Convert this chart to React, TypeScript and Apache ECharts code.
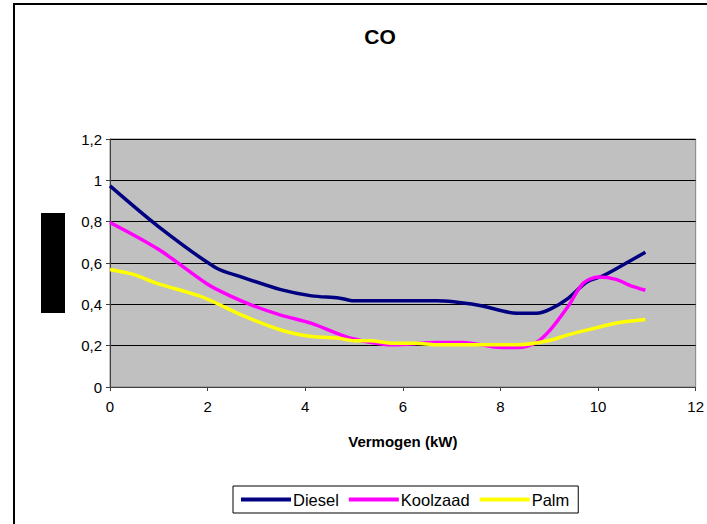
import React, { useEffect, useRef } from "react";
import * as echarts from "echarts";

const titleText = "CO";
const xAxisName = "Vermogen (kW)";
const seriesNames = ["Diesel", "Koolzaad", "Palm"];
const seriesColors = ["#000080", "#FF00FF", "#FFFF00"];

const dieselData: [number, number][] = [
  [0, 0.973], [1, 0.775], [2.15, 0.58], [2.7, 0.532], [3.5, 0.471],
  [4.13, 0.441], [4.69, 0.431], [5.0, 0.417], [6.68, 0.417], [7.55, 0.396],
  [8.34, 0.357], [8.74, 0.357], [9.02, 0.377], [9.38, 0.428], [9.77, 0.508],
  [10.09, 0.537], [10.49, 0.588], [10.97, 0.652],
];
const koolzaadData: [number, number][] = [
  [0, 0.796], [1, 0.665], [2, 0.497], [2.46, 0.441], [2.94, 0.393], [3.5, 0.348],
  [4.13, 0.308], [4.69, 0.256], [5.0, 0.232], [5.8, 0.204], [6.68, 0.215],
  [7.23, 0.215], [8.03, 0.191], [8.34, 0.191], [8.74, 0.216], [9.02, 0.276],
  [9.38, 0.388], [9.7, 0.503], [10.01, 0.532], [10.37, 0.521], [10.65, 0.492],
  [10.97, 0.468],
];
const palmData: [number, number][] = [
  [0, 0.569], [0.48, 0.545], [0.95, 0.503], [1.83, 0.441], [2.15, 0.409], [2.7, 0.348],
  [3.5, 0.276], [4.13, 0.244], [4.69, 0.236], [5.0, 0.224], [5.32, 0.224],
  [5.8, 0.212], [6.28, 0.212], [6.68, 0.204], [8.34, 0.204], [8.98, 0.224],
  [9.38, 0.252], [9.85, 0.28], [10.41, 0.311], [10.97, 0.327],
];
const allData = [dieselData, koolzaadData, palmData];

const xMin = 0, xMax = 12, xStep = 2;
const yMin = 0, yMax = 1.2, yStep = 0.2;

export default function App() {
  const ref = useRef<HTMLDivElement>(null);
  useEffect(() => {
    if (!ref.current) return;
    const chart = echarts.init(ref.current, null, { renderer: "svg" });
    const font = "'Liberation Sans', Arial, sans-serif";
    chart.setOption({
      animation: false,
      backgroundColor: "#ffffff",
      title: {
        text: titleText,
        left: 375,
        textAlign: "center",
        top: 21,
        textStyle: { fontFamily: font, fontSize: 21, fontWeight: "bold", color: "#000" },
      },
      grid: { left: 110, right: 10, top: 139, bottom: 137, show: true, backgroundColor: "#C0C0C0", borderColor: "#808080", borderWidth: 1 },
      xAxis: {
        type: "value",
        min: xMin, max: xMax, interval: xStep,
        name: xAxisName,
        nameLocation: "middle",
        nameGap: 47,
        nameTextStyle: { fontFamily: font, fontSize: 15, fontWeight: "bold", color: "#000" },
        axisLine: { show: true, lineStyle: { color: "#404040", width: 1 } },
        axisTick: { show: true, length: 4, lineStyle: { color: "#404040" } },
        splitLine: { show: false },
        axisLabel: { fontFamily: font, fontSize: 15, color: "#000", margin: 12 },
      },
      yAxis: {
        type: "value",
        min: yMin, max: yMax, interval: yStep,
        axisLine: { show: true, lineStyle: { color: "#404040", width: 1 } },
        axisTick: { show: true, length: 4, lineStyle: { color: "#404040" } },
        splitLine: { show: true, lineStyle: { color: "#000", width: 1 } },
        axisLabel: {
          fontFamily: font, fontSize: 15, color: "#000", margin: 8,
          formatter: (v: number) => String(+v.toFixed(1)).replace(".", ","),
        },
      },
      legend: {
        left: 233,
        top: 486,
        borderColor: "#000",
        borderWidth: 1,
        backgroundColor: "#fff",
        padding: [5, 9, 5, 8],
        itemGap: 10,
        itemWidth: 50,
        itemHeight: 4,
        icon: "rect",
        textStyle: { fontFamily: font, fontSize: 16.5, color: "#000", padding: [0, 0, 0, -3] },
        data: seriesNames,
      },
      graphic: [
        { type: "rect", shape: { x: 14, y: 4, width: 720, height: 540 }, style: { fill: "none", stroke: "#000", lineWidth: 2 }, silent: true, z: 100 },
        { type: "rect", shape: { x: 41, y: 213, width: 24, height: 100 }, style: { fill: "#000" }, silent: true, z: 100 },
      ],
      series: seriesNames.map((n, i) => ({
        name: n,
        type: "line",
        data: allData[i],
        smooth: 0.3,
        showSymbol: false,
        symbol: "none",
        lineStyle: { color: seriesColors[i], width: 3.5 },
        itemStyle: { color: seriesColors[i] },
      })),
    });
    return () => chart.dispose();
  }, []);
  return <div ref={ref} style={{ position: "fixed", left: 0, top: 0, width: 707, height: 524 }} />;
}
